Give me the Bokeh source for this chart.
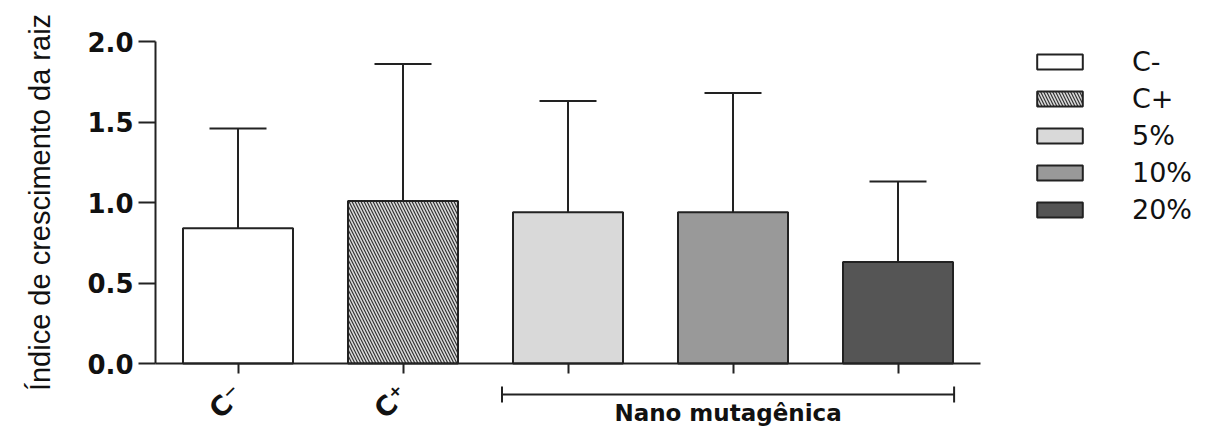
import math
from bokeh.plotting import figure
from bokeh.models import (ColumnDataSource, Whisker, TeeHead, Arrow, Label,
                          Legend, LegendItem, FixedTicker, LinearAxis)
from bokeh.embed import file_html
from bokeh.resources import INLINE

# ---- data ----
categories = ["C-", "C+", "5%", "10%", "20%"]
tick_labels = ["C\u207b", "C\u207a", "", "", ""]
means = [0.84, 1.01, 0.94, 0.94, 0.63]
sds = [0.62, 0.85, 0.69, 0.74, 0.50]
fills = ["#ffffff", "#dcdcdc", "#d9d9d9", "#999999", "#555555"]
hatches = [" ", "\\", " ", " ", " "]
y_ticks = [0, 0.5, 1.0, 1.5, 2.0]
y_tick_labels = ["0.0", "0.5", "1.0", "1.5", "2.0"]
group_label = "Nano mutagênica"
group_members = [2, 3, 4]
y_label = "Índice de crescimento da raiz"

# ---- layout (pixels) ----
W, H = 1218, 427
PX_X = 165.0          # pixels per category step
PX_Y = 161.0          # pixels per y unit
AX_LEFT = 155         # canvas x of the y axis
AX_BOTTOM = 363       # canvas y of the x axis
n = len(categories)
x0 = -0.5 - AX_LEFT / PX_X
x1 = x0 + W / PX_X
y0 = -(H - AX_BOTTOM) / PX_Y
y1 = y0 + H / PX_Y

def px_to_x(px):
    return x0 + px / PX_X

def px_to_y(py):
    return y1 - py / PX_Y

xs = list(range(n))
uppers = [m + s for m, s in zip(means, sds)]
src = ColumnDataSource(dict(x=xs, top=means, upper=uppers, fill=fills,
                            hatch=hatches, label=categories))

DARK = "#222222"
TXT = "#111111"
p = figure(width=W, height=H, output_backend="svg", toolbar_location=None,
           x_range=(x0, x1), y_range=(y0, y1),
           x_axis_location=None, y_axis_location=None,
           min_border=0)
p.outline_line_color = None
p.xgrid.visible = False
p.ygrid.visible = False
p.background_fill_color = "white"
p.border_fill_color = "white"

bars = p.vbar(x="x", top="top", width=2 / 3, bottom=0, source=src,
              fill_color="fill", line_color=DARK, line_width=2,
              hatch_pattern="hatch", hatch_color="#333333", hatch_scale=6,
              hatch_weight=1.2)

wh = Whisker(base="x", lower="top", upper="upper", source=src,
             upper_head=TeeHead(size=57, line_width=2, line_color=DARK),
             lower_head=None, line_width=2, line_color=DARK, level="glyph")
p.add_layout(wh)

# ---- axes at fixed locations ----
yax = LinearAxis(fixed_location=-0.5, bounds=(0, 2.0),
                 ticker=FixedTicker(ticks=y_ticks))
yax.major_label_overrides = {t: s for t, s in zip(y_ticks, y_tick_labels)}
yax.minor_tick_line_color = None
yax.major_tick_out = 17
yax.major_tick_in = 0
yax.major_label_standoff = 5
yax.major_label_text_font = "DejaVu Sans"
yax.major_label_text_font_style = "bold"
yax.major_label_text_font_size = "26px"
yax.major_label_text_color = TXT
p.add_layout(yax, "left")

xax = LinearAxis(fixed_location=0, bounds=(-0.5, n - 0.5),
                 ticker=FixedTicker(ticks=xs))
xax.major_label_overrides = {i: t for i, t in zip(xs, tick_labels)}
xax.minor_tick_line_color = None
xax.major_tick_out = 10
xax.major_tick_in = 0
xax.major_label_orientation = math.pi / 4
xax.major_label_standoff = 16
xax.major_label_text_font = "DejaVu Sans"
xax.major_label_text_font_style = "bold"
xax.major_label_text_font_size = "27px"
xax.major_label_text_color = TXT
p.add_layout(xax, "below")

for ax in (xax, yax):
    ax.axis_line_width = 2
    ax.axis_line_color = DARK
    ax.major_tick_line_width = 2
    ax.major_tick_line_color = DARK

# y axis title
p.add_layout(Label(x=px_to_x(39), y=sum(y_ticks[::len(y_ticks) - 1]) / 2,
                   text=y_label, angle=math.pi / 2, text_align="center",
                   text_baseline="middle", text_font="Liberation Sans",
                   text_font_size="29px", text_color=TXT))

# group bracket
g0, g1 = min(group_members), max(group_members)
by = px_to_y(394)
br = Arrow(x_start=g0 - 0.4, x_end=g1 + 0.34, y_start=by, y_end=by,
           start=TeeHead(size=16, line_width=2, line_color=DARK),
           end=TeeHead(size=16, line_width=2, line_color=DARK),
           line_width=2, line_color=DARK)
p.add_layout(br)
p.add_layout(Label(x=(g0 + g1) / 2 - 0.03, y=px_to_y(412), text=group_label,
                   text_align="center", text_baseline="alphabetic",
                   text_font="DejaVu Sans", text_font_style="bold",
                   text_font_size="23px", text_color=TXT))

# legend
items = [LegendItem(label=c, renderers=[bars], index=i) for i, c in enumerate(categories)]
leg = Legend(items=items, location=(1031, 202), margin=0, padding=0,
             glyph_width=57, glyph_height=19, label_height=19, spacing=6,
             label_standoff=44, border_line_color=None,
             label_text_font="DejaVu Sans", label_text_font_size="27px",
             label_text_color=TXT, background_fill_alpha=0)
p.add_layout(leg, "center")

open("out.html", "w").write(file_html(p, INLINE))
